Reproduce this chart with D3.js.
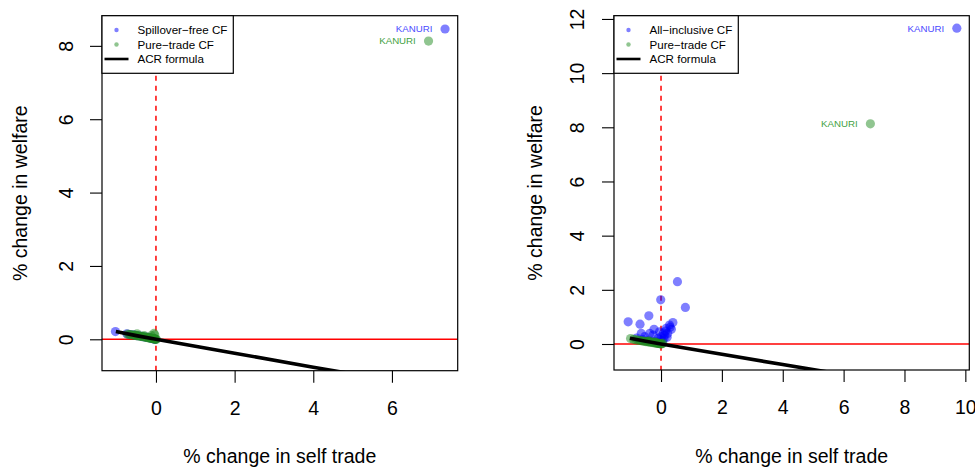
<!DOCTYPE html>
<html><head><meta charset="utf-8">
<script src="https://cdn.jsdelivr.net/npm/d3@7"></script>
<style>
body{margin:0;background:#fff;}
svg{display:block;font-family:"Liberation Sans",Arial,Helvetica,sans-serif;}
</style></head>
<body><svg id="c" width="975" height="467"></svg>
<script>
// ---------- data ----------
// Left panel: spillover-free CF (blue) and pure-trade CF (green); last entry = KANURI
const leftBlueX = [-1.03,-0.74,-0.66,-0.56,-0.48,-0.40,-0.33,-0.27,-0.21,-0.16,-0.12,-0.08,-0.05,-0.02,7.35];
const leftBlueY = [0.21,0.15,0.13,0.12,0.10,0.09,0.07,0.06,0.05,0.04,0.03,0.02,0.01,0.00,8.46];
const leftGreenX = [-0.72,-0.68,-0.64,-0.60,-0.56,-0.53,-0.50,-0.47,-0.44,-0.40,-0.37,-0.34,-0.31,-0.28,-0.25,-0.22,-0.20,-0.17,-0.15,-0.12,-0.10,-0.08,-0.06,-0.05,-0.03,-0.02,0.00,0.01,-0.05,-0.03,-0.12,-0.48,-0.30,6.93];
const leftGreenY = [0.14,0.13,0.13,0.12,0.11,0.11,0.10,0.10,0.09,0.08,0.08,0.07,0.07,0.06,0.05,0.05,0.04,0.04,0.03,0.03,0.02,0.02,0.02,0.01,0.01,0.00,0.00,0.00,0.16,0.12,0.10,0.15,0.10,8.13];
// Right panel: all-inclusive CF (blue) and pure-trade CF (green); last entry = KANURI
const rightBlueX = [-1.08,-0.69,-0.40,-0.01,0.54,0.80,0.39,0.28,0.17,0.34,-0.23,-0.37,-0.65,0.12,0.01,-0.10,-0.54,-0.26,-0.05,0.22,-0.80,-0.60,-0.45,-0.30,-0.15,0.05,0.10,0.20,0.30,0.15,0.08,-0.02,9.72];
const rightBlueY = [0.82,0.73,1.04,1.63,2.30,1.35,0.79,0.70,0.58,0.54,0.54,0.39,0.39,0.33,0.27,0.21,0.27,0.33,0.45,0.39,0.22,0.16,0.12,0.10,0.08,0.12,0.20,0.25,0.62,0.48,0.40,0.15,11.66];
const rightGreenX = [-1.00,-0.90,-0.82,-0.76,-0.70,-0.65,-0.60,-0.55,-0.50,-0.46,-0.42,-0.38,-0.34,-0.30,-0.26,-0.22,-0.18,-0.15,-0.12,-0.09,-0.06,-0.04,-0.02,0.00,0.03,0.06,-0.40,-0.20,6.88];
const rightGreenY = [0.20,0.17,0.15,0.14,0.13,0.12,0.11,0.10,0.09,0.09,0.08,0.07,0.07,0.06,0.05,0.05,0.04,0.03,0.03,0.02,0.02,0.01,0.01,0.00,0.01,0.03,0.12,0.08,8.13];
// ACR formula line (read points)
const acrX = [-1.02,-0.5,0,2,4,6,8,10];
const acrY = [0.21,0.10,0,-0.38,-0.76,-1.13,-1.49,-1.84];
// ticks
const leftXTicks = [0,2,4,6];
const leftYTicks = [0,2,4,6,8];
const rightXTicks = [0,2,4,6,8,10];
const rightYTicks = [0,2,4,6,8,10,12];
const xTitle = "% change in self trade";
const yTitle = "% change in welfare";
const leftLegend = ["Spillover\u2212free CF","Pure\u2212trade CF","ACR formula"];
const rightLegend = ["All\u2212inclusive CF","Pure\u2212trade CF","ACR formula"];
const highlightLabel = "KANURI";

// ---------- styles ----------
const BLUE = "rgba(0,0,255,0.5)";
const GREEN = "rgba(34,139,34,0.5)";
const BLUE_TXT = "#4a4aff";
const GREEN_TXT = "#3f9f3f";
const FS = 19.5;

const svg = d3.select("#c");

function panel(cfg, idx){
  const {x0,x1,y0,y1,xd,yd,bx,by,gx,gy,xt,yt,leg,legW,ytlx,ytitx} = cfg;
  const x = d3.scaleLinear().domain(xd).range([x0,x1]);
  const y = d3.scaleLinear().domain(yd).range([y1,y0]);
  const g = svg.append("g");
  const cid = "clip"+idx;
  svg.append("clipPath").attr("id",cid).append("rect")
    .attr("x",x0).attr("y",y0).attr("width",x1-x0).attr("height",y1-y0);
  const pg = g.append("g").attr("clip-path",`url(#${cid})`);

  pg.append("line").attr("x1",x0).attr("x2",x1).attr("y1",y(0)).attr("y2",y(0))
    .attr("stroke","#ff0000").attr("stroke-width",1.5);
  pg.append("line").attr("x1",x(0)).attr("x2",x(0)).attr("y1",y0).attr("y2",y1)
    .attr("stroke","#ff0000").attr("stroke-width",1.5).attr("stroke-dasharray","5,5");
  pg.selectAll("circle.b").data(d3.range(bx.length)).join("circle")
    .attr("cx",i=>x(bx[i])).attr("cy",i=>y(by[i])).attr("r",4.6).attr("fill",BLUE);
  pg.selectAll("circle.g").data(d3.range(gx.length)).join("circle")
    .attr("cx",i=>x(gx[i])).attr("cy",i=>y(gy[i])).attr("r",4.6).attr("fill",GREEN);
  const line = d3.line().x(i=>x(acrX[i])).y(i=>y(acrY[i]));
  pg.append("path").attr("d",line(d3.range(acrX.length)))
    .attr("fill","none").attr("stroke","#000").attr("stroke-width",3.6);

  const bi = bx.length-1, gi = gx.length-1;
  g.append("text").attr("x",x(bx[bi])-12.7).attr("y",y(by[bi])).attr("dy","0.35em")
    .attr("text-anchor","end").attr("font-size",9.7).attr("fill",BLUE_TXT).text(highlightLabel);
  g.append("text").attr("x",x(gx[gi])-12.7).attr("y",y(gy[gi])).attr("dy","0.35em")
    .attr("text-anchor","end").attr("font-size",9.7).attr("fill",GREEN_TXT).text(highlightLabel);

  const ax = g.append("g").attr("transform",`translate(0,${y1})`)
    .call(d3.axisBottom(x).tickValues(xt).tickSize(12).tickSizeOuter(0).tickPadding(0));
  ax.select(".domain").remove();
  ax.selectAll("line").attr("stroke","#000").attr("stroke-width",1.1);
  ax.selectAll("text").attr("font-size",FS).attr("fill","#000").attr("font-family",null)
    .attr("y",37).attr("dy","0.35em");
  const ay = g.append("g").attr("transform",`translate(${x0},0)`)
    .call(d3.axisLeft(y).tickValues(yt).tickSize(12).tickSizeOuter(0));
  ay.select(".domain").remove();
  ay.selectAll("line").attr("stroke","#000").attr("stroke-width",1.1);
  ay.selectAll("text").attr("font-size",FS).attr("fill","#000").attr("font-family",null)
    .attr("x",0).attr("y",0).attr("dy","0.35em").attr("text-anchor","middle")
    .attr("transform",`translate(${ytlx-x0},0) rotate(-90)`);

  g.append("rect").attr("x",x0).attr("y",y0).attr("width",x1-x0).attr("height",y1-y0)
    .attr("fill","none").attr("stroke","#000").attr("stroke-width",1.2);

  g.append("text").attr("x",(x0+x1)/2).attr("y",456).attr("dy","0.35em")
    .attr("text-anchor","middle").attr("font-size",FS).text(xTitle);
  g.append("text").attr("transform",`translate(${ytitx},${(y0+y1)/2}) rotate(-90)`)
    .attr("dy","0.35em").attr("text-anchor","middle").attr("font-size",FS).text(yTitle);

  const lg = g.append("g");
  lg.append("rect").attr("x",x0).attr("y",y0).attr("width",legW).attr("height",57.6)
    .attr("fill","#fff").attr("stroke","#000").attr("stroke-width",1.2);
  const rows = [30,44.5,59];
  const dotX = x0+14.5, txtX = x0+35.5;
  lg.append("circle").attr("cx",dotX).attr("cy",rows[0]).attr("r",2.2).attr("fill",BLUE);
  lg.append("circle").attr("cx",dotX).attr("cy",rows[1]).attr("r",2.2).attr("fill",GREEN);
  lg.append("line").attr("x1",x0+2.5).attr("x2",x0+26.5).attr("y1",rows[2]).attr("y2",rows[2])
    .attr("stroke","#000").attr("stroke-width",2.6);
  leg.forEach((t,i)=>{
    lg.append("text").attr("x",txtX).attr("y",rows[i]).attr("dy","0.35em")
      .attr("font-size",11.6).text(t);
  });
}

panel({x0:102,x1:457.7,y0:15.7,y1:370.7,xd:[-1.372,7.672],yd:[-0.856,8.822],
  bx:leftBlueX,by:leftBlueY,gx:leftGreenX,gy:leftGreenY,xt:leftXTicks,yt:leftYTicks,
  leg:leftLegend,legW:131.3,ytlx:65.7,ytitx:20},0);
panel({x0:614,x1:969.3,y0:15.7,y1:370,xd:[-1.545,10.13],yd:[-0.96,12.12],
  bx:rightBlueX,by:rightBlueY,gx:rightGreenX,gy:rightGreenY,xt:rightXTicks,yt:rightYTicks,
  leg:rightLegend,legW:124.3,ytlx:576.7,ytitx:535},1);
</script></body></html>
